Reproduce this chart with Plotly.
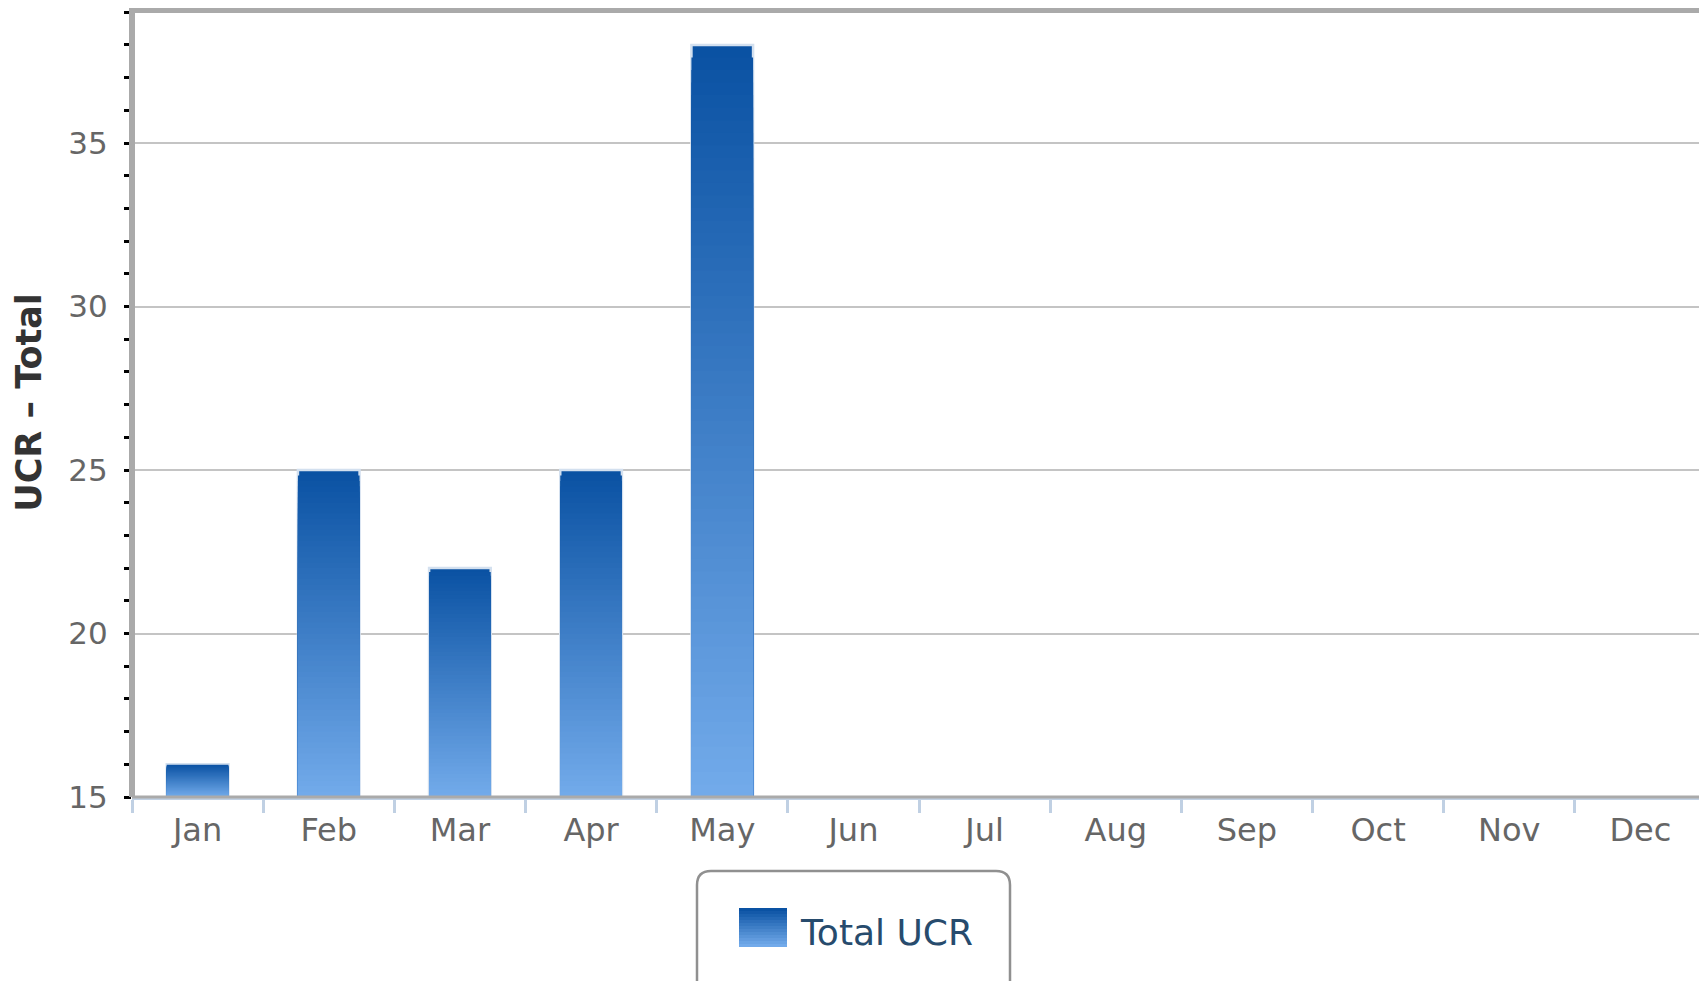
import plotly.graph_objects as go

months = ["Jan", "Feb", "Mar", "Apr", "May", "Jun", "Jul", "Aug", "Sep", "Oct", "Nov", "Dec"]
total_ucr = [16, 25, 22, 25, 38, None, None, None, None, None, None, None]
y_ticks = [15, 20, 25, 30, 35]
series_name = "Total UCR"
y_title = "UCR – Total"

Y_MIN, Y_MAX = 15, 39.13
TOP_RGB = (10, 82, 163)
BOT_RGB = (114, 170, 234)
N_STEPS = 60

# figure is placed by the page at (8, 8)
W, H = 1699, 973
ML, MR, MT, MB = 124, 1, 0, 184
PW, PH = W - ML - MR, H - MT - MB


def px_x(x):
    return (x - ML) / PW


def px_y(y):
    return (H - MB - y) / PH


def grad_col(t):
    return "rgb(%d,%d,%d)" % tuple(round(TOP_RGB[i] + (BOT_RGB[i] - TOP_RGB[i]) * t) for i in range(3))


fig = go.Figure()

# main bar trace (legend entry); its own colour is hidden under the gradient
fig.add_trace(go.Bar(
    x=months, y=total_ucr, name=series_name,
    marker=dict(color="rgba(0,0,0,0)", line=dict(width=0)),
    showlegend=True, hoverinfo="x+y",
))

# gradient fill: overlaid bars, tallest (darkest) first
for k in range(N_STEPS):
    frac = (N_STEPS - k) / N_STEPS
    ys = [None if v is None else Y_MIN + (v - Y_MIN) * frac for v in total_ucr]
    line = dict(color="#d3e0ef", width=2.5) if k == 0 else dict(width=0)
    fig.add_trace(go.Bar(
        x=months, y=ys, marker=dict(color=grad_col(k / (N_STEPS - 1)), line=line),
        showlegend=False, hoverinfo="skip",
    ))

fig.update_layout(
    width=W, height=H,
    margin=dict(l=ML, r=MR, t=MT, b=MB),
    paper_bgcolor="white", plot_bgcolor="white",
    barmode="overlay", bargap=0.53,
    font=dict(family="DejaVu Sans", color="#666666"),
    showlegend=True,
    legend=dict(
        orientation="h", x=px_x(723), xanchor="left", y=px_y(893), yanchor="top",
        font=dict(size=36, color="#274b6d"),
        bgcolor="rgba(0,0,0,0)", borderwidth=0,
        itemwidth=60,
    ),
)

fig.update_yaxes(
    range=[Y_MIN, Y_MAX], tickvals=y_ticks, automargin=False,
    showgrid=True, gridcolor="#c4c4c4", gridwidth=2,
    showline=False,
    ticks="outside", ticklen=7, tickwidth=3, tickcolor="#000000",
    minor=dict(dtick=1, ticks="outside", ticklen=7, tickwidth=3, tickcolor="#000000", showgrid=False),
    tickfont=dict(size=31, color="#666666"),
    ticklabelstandoff=10,
    title=dict(text=y_title, font=dict(size=35, color="#333333", family="DejaVu Sans", weight="bold"), standoff=16),
    zeroline=False, fixedrange=True,
)
fig.update_xaxes(
    type="category", categoryorder="array", categoryarray=months, automargin=False,
    showgrid=False,
    showline=True, linecolor="#c0d0e3", linewidth=3,
    ticks="outside", tickson="boundaries", ticklen=13, tickwidth=3, tickcolor="#c0d0e3",
    tickfont=dict(size=32, color="#666666"),
    ticklabelstandoff=3,
    fixedrange=True,
)

# frame: thick grey left and top edges, grey bottom edge, thin right edge
fig.add_shape(type="line", xref="paper", yref="paper", x0=0, x1=1, y0=1 - 2 / PH, y1=1 - 2 / PH,
              line=dict(color="#aaaaaa", width=6), layer="above")
fig.add_shape(type="line", xref="paper", yref="paper", x0=0, x1=1, y0=0, y1=0,
              line=dict(color="#aaaaaa", width=3), layer="above")
fig.add_shape(type="line", xref="paper", yref="paper", x0=0, x1=0, y0=0, y1=1,
              line=dict(color="#aaaaaa", width=6), layer="above")
fig.add_shape(type="line", xref="paper", yref="paper", x0=1, x1=1, y0=0, y1=1,
              line=dict(color="#cccccc", width=2), layer="above")

# rounded legend box
x0p, x1p = px_x(689), px_x(1002)
y0p, y1p = px_y(863), px_y(1010)
rx, ry = 14 / PW, 14 / PH
path = (f"M {x0p+rx},{y0p} L {x1p-rx},{y0p} Q {x1p},{y0p} {x1p},{y0p-ry} "
        f"L {x1p},{y1p+ry} Q {x1p},{y1p} {x1p-rx},{y1p} L {x0p+rx},{y1p} "
        f"Q {x0p},{y1p} {x0p},{y1p+ry} L {x0p},{y0p-ry} Q {x0p},{y0p} {x0p+rx},{y0p} Z")
fig.add_shape(type="path", xref="paper", yref="paper", path=path,
              line=dict(color="#909090", width=2.5), fillcolor="rgba(0,0,0,0)")

# large gradient legend swatch
SW_X0, SW_X1, SW_Y0, SW_Y1 = 731, 779, 900, 939
n_sw = 13
for i in range(n_sw):
    ya = SW_Y0 + (SW_Y1 - SW_Y0) * i / n_sw
    yb = SW_Y0 + (SW_Y1 - SW_Y0) * (i + 1) / n_sw
    fig.add_shape(type="rect", xref="paper", yref="paper",
                  x0=px_x(SW_X0), x1=px_x(SW_X1), y0=px_y(ya), y1=px_y(yb),
                  line=dict(width=0), fillcolor=grad_col(i / (n_sw - 1)))

fig.write_html("out.html")
